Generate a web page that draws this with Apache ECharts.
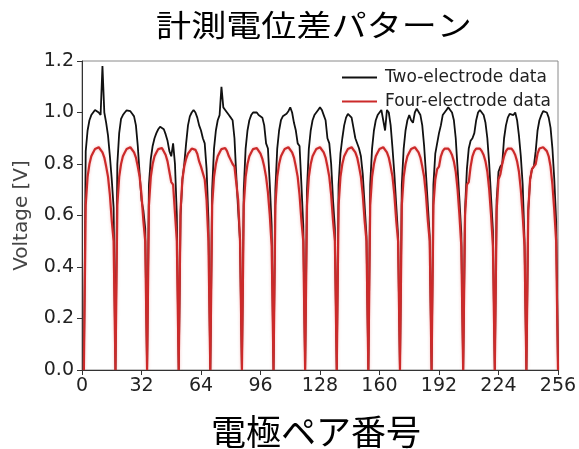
<!DOCTYPE html>
<html>
<head>
<meta charset="utf-8">
<script src="https://cdn.jsdelivr.net/npm/echarts@6/dist/echarts.min.js"></script>
<style>
  html, body { margin: 0; padding: 0; background: #ffffff; }
  #chart { width: 579px; height: 449px; }
</style>
</head>
<body>
<div id="chart"></div>
<script>
// Measured potential difference for each electrode pair (1..256).
// Each injection pattern gives one arc of 16 readings; the reading between
// arcs (pair numbers 1, 18, 35, ... 256) is zero.
const pairsPerArc = 17;
const firstPair = 1;
const lastPair = 256;

// Two-electrode measurement, one row per arc (V)
const twoElectrodeArcs = [
  [0.85, 0.93, 0.97, 0.99, 1.00, 1.01, 1.015, 1.00, 0.99, 1.18, 1.00, 0.96, 0.91, 0.83, 0.74, 0.63],
  [0.80, 0.92, 0.975, 0.99, 1.00, 1.008, 1.01, 1.005, 0.995, 0.985, 0.95, 0.87, 0.76, 0.66, 0.62, 0.55],
  [0.72, 0.82, 0.87, 0.90, 0.92, 0.935, 0.945, 0.945, 0.935, 0.915, 0.89, 0.85, 0.83, 0.88, 0.80, 0.60],
  [0.60, 0.74, 0.80, 0.88, 0.95, 0.985, 1.00, 1.01, 1.00, 0.98, 0.95, 0.93, 0.90, 0.88, 0.78, 0.58],
  [0.70, 0.86, 0.93, 0.97, 0.99, 1.10, 1.02, 1.01, 1.00, 0.99, 0.98, 0.97, 0.90, 0.75, 0.62, 0.50],
  [0.70, 0.86, 0.93, 0.97, 0.99, 1.00, 1.005, 1.00, 0.99, 0.985, 0.98, 0.95, 0.88, 0.86, 0.72, 0.56],
  [0.70, 0.86, 0.93, 0.97, 0.985, 0.99, 0.995, 1.005, 1.02, 1.00, 0.96, 0.93, 0.88, 0.87, 0.72, 0.56],
  [0.70, 0.86, 0.93, 0.97, 0.99, 1.00, 1.01, 1.02, 1.01, 0.99, 0.97, 0.90, 0.88, 0.80, 0.66, 0.55],
  [0.72, 0.84, 0.90, 0.95, 0.98, 0.995, 1.00, 0.98, 0.94, 0.90, 0.90, 0.86, 0.83, 0.76, 0.64, 0.52],
  [0.72, 0.86, 0.93, 0.97, 0.99, 1.00, 1.01, 0.97, 0.93, 1.01, 1.00, 0.95, 0.86, 0.76, 0.64, 0.52],
  [0.72, 0.86, 0.93, 0.97, 0.99, 0.97, 0.96, 1.00, 1.015, 1.01, 0.99, 0.95, 0.87, 0.76, 0.64, 0.52],
  [0.72, 0.84, 0.88, 0.92, 0.95, 0.99, 1.00, 1.01, 1.02, 1.01, 1.00, 0.97, 0.90, 0.78, 0.66, 0.53],
  [0.62, 0.78, 0.86, 0.89, 0.90, 0.92, 0.97, 1.00, 1.01, 1.00, 0.99, 0.96, 0.90, 0.80, 0.67, 0.54],
  [0.66, 0.77, 0.79, 0.80, 0.90, 0.95, 0.98, 0.995, 1.00, 0.99, 1.00, 0.97, 0.91, 0.83, 0.72, 0.50],
  [0.62, 0.74, 0.78, 0.79, 0.85, 0.93, 0.97, 0.99, 1.005, 1.01, 1.00, 0.98, 0.94, 0.86, 0.74, 0.58]
];

// Four-electrode measurement, one row per arc (V)
const fourElectrodeArcs = [
  [0.64, 0.75, 0.80, 0.83, 0.845, 0.858, 0.865, 0.865, 0.858, 0.845, 0.825, 0.79, 0.75, 0.68, 0.58, 0.50],
  [0.64, 0.75, 0.80, 0.83, 0.845, 0.858, 0.865, 0.865, 0.858, 0.845, 0.825, 0.79, 0.75, 0.68, 0.58, 0.50],
  [0.64, 0.75, 0.80, 0.83, 0.845, 0.858, 0.865, 0.862, 0.855, 0.835, 0.81, 0.77, 0.73, 0.72, 0.715, 0.50],
  [0.62, 0.74, 0.79, 0.82, 0.84, 0.85, 0.86, 0.862, 0.855, 0.84, 0.81, 0.79, 0.785, 0.74, 0.66, 0.50],
  [0.64, 0.75, 0.80, 0.83, 0.845, 0.858, 0.865, 0.862, 0.85, 0.83, 0.815, 0.80, 0.79, 0.785, 0.66, 0.50],
  [0.64, 0.75, 0.80, 0.83, 0.845, 0.858, 0.865, 0.862, 0.855, 0.84, 0.82, 0.79, 0.75, 0.69, 0.60, 0.48],
  [0.64, 0.75, 0.80, 0.83, 0.845, 0.858, 0.865, 0.865, 0.858, 0.845, 0.825, 0.79, 0.75, 0.68, 0.58, 0.50],
  [0.64, 0.75, 0.80, 0.83, 0.845, 0.858, 0.865, 0.865, 0.858, 0.845, 0.825, 0.79, 0.75, 0.68, 0.58, 0.50],
  [0.64, 0.75, 0.80, 0.83, 0.845, 0.858, 0.865, 0.865, 0.858, 0.845, 0.825, 0.79, 0.75, 0.68, 0.58, 0.50],
  [0.64, 0.75, 0.80, 0.83, 0.845, 0.858, 0.865, 0.865, 0.858, 0.845, 0.825, 0.79, 0.75, 0.68, 0.58, 0.50],
  [0.64, 0.75, 0.80, 0.83, 0.845, 0.858, 0.865, 0.865, 0.858, 0.845, 0.825, 0.79, 0.75, 0.68, 0.58, 0.50],
  [0.64, 0.74, 0.78, 0.79, 0.83, 0.85, 0.86, 0.865, 0.86, 0.85, 0.835, 0.81, 0.77, 0.70, 0.60, 0.48],
  [0.60, 0.72, 0.73, 0.79, 0.83, 0.85, 0.86, 0.865, 0.86, 0.85, 0.835, 0.81, 0.77, 0.70, 0.60, 0.48],
  [0.62, 0.74, 0.76, 0.80, 0.83, 0.85, 0.86, 0.865, 0.86, 0.85, 0.835, 0.81, 0.77, 0.70, 0.60, 0.48],
  [0.62, 0.74, 0.78, 0.79, 0.80, 0.84, 0.86, 0.865, 0.865, 0.86, 0.85, 0.83, 0.79, 0.72, 0.62, 0.50]
];

// Axis ranges and labels
const xTickStep = 32;
const yTickStep = 0.2;
const yMax = 1.2;
const seriesNames = ['Two-electrode data', 'Four-electrode data'];
const chartTitle = '計測電位差パターン';
const xAxisTitle = '電極ペア番号';

// Lay the arcs out along the pair-number axis with a zero reading between them
function buildSeries(arcs) {
  const out = [];
  arcs.forEach(function (arc, m) {
    const start = firstPair + m * pairsPerArc;
    out.push([start, 0]);
    arc.forEach(function (v, k) { out.push([start + k + 1, v]); });
  });
  out.push([lastPair, 0]);
  return out;
}

const chart = echarts.init(document.getElementById('chart'), null, { renderer: 'canvas' });

const tickFont = { fontFamily: 'DejaVu Sans', fontSize: 19, color: '#222' };

chart.setOption({
  animation: false,
  backgroundColor: '#ffffff',
  // Heading and x-axis caption drawn as graphics for free placement
  graphic: [
    {
      type: 'text',
      x: 314,
      y: 25,
      scaleX: 1.17,
      style: {
        text: chartTitle,
        fontFamily: 'Noto Sans CJK JP',
        fontSize: 30,
        fill: '#000',
        align: 'center',
        verticalAlign: 'middle'
      }
    },
    {
      type: 'text',
      x: 316,
      y: 432,
      style: {
        text: xAxisTitle,
        fontFamily: 'Noto Sans CJK JP',
        fontSize: 35,
        fill: '#000',
        align: 'center',
        verticalAlign: 'middle'
      }
    }
  ],
  legend: {
    orient: 'vertical',
    left: 337,
    top: 64,
    itemWidth: 35,
    itemHeight: 2,
    itemGap: 7,
    icon: 'rect',
    data: seriesNames,
    textStyle: { fontFamily: 'DejaVu Sans', fontSize: 17, color: '#222', padding: [0, 0, 0, 3] }
  },
  grid: {
    left: 82, top: 61, width: 476, height: 309,
    outerBoundsMode: 'none',
    containLabel: false,
    show: true, borderColor: '#8a8a8a', borderWidth: 1, backgroundColor: 'transparent'
  },
  xAxis: {
    type: 'value',
    min: 0, max: lastPair, interval: xTickStep,
    axisLine: { show: true, onZero: false, lineStyle: { color: '#333', width: 1 } },
    axisTick: { show: true, length: 5, lineStyle: { color: '#333' } },
    axisLabel: Object.assign({ margin: 7 }, tickFont),
    splitLine: { show: false }
  },
  yAxis: {
    type: 'value',
    min: 0, max: yMax, interval: yTickStep,
    name: 'Voltage [V]',
    nameLocation: 'middle',
    nameGap: 50,
    nameRotate: 90,
    nameTextStyle: { fontFamily: 'DejaVu Sans', fontSize: 20, color: '#444' },
    axisLine: { show: true, lineStyle: { color: '#333', width: 1 } },
    axisTick: { show: true, length: 5, lineStyle: { color: '#333' } },
    axisLabel: Object.assign({ margin: 8, formatter: function (v) { return v.toFixed(1); } }, tickFont),
    splitLine: { show: false }
  },
  series: [
    {
      name: seriesNames[0],
      type: 'line',
      data: buildSeries(twoElectrodeArcs),
      showSymbol: false,
      color: '#111111',
      lineStyle: { color: '#111111', width: 1.8 },
      z: 2
    },
    {
      name: seriesNames[1],
      type: 'line',
      data: buildSeries(fourElectrodeArcs),
      showSymbol: false,
      color: '#cc2a2a',
      lineStyle: { color: '#cc2a2a', width: 2.2, shadowColor: 'rgba(220,60,60,0.35)', shadowBlur: 3 },
      z: 3
    }
  ]
});
</script>
</body>
</html>
